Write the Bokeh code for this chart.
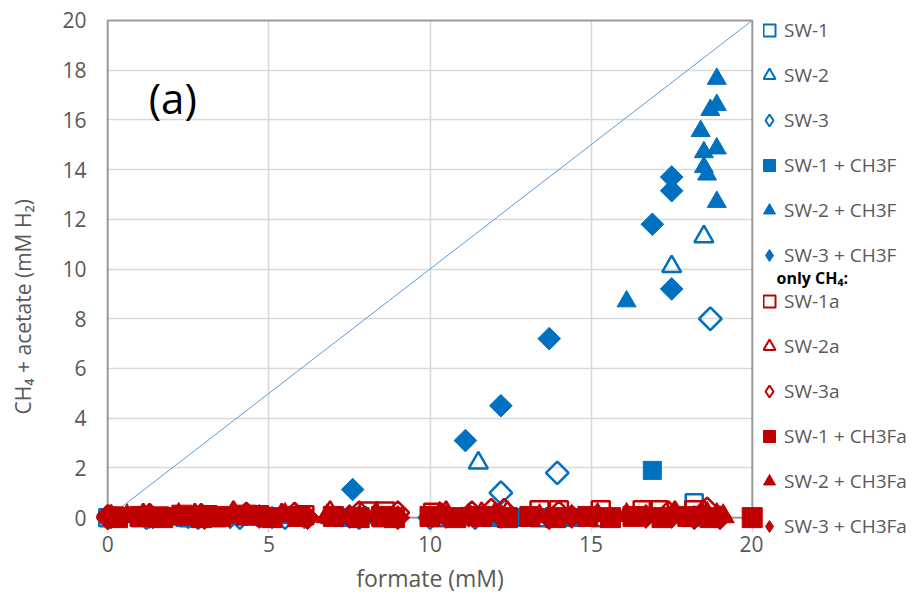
import math
from bokeh.plotting import figure
from bokeh.layouts import row
from bokeh.models import (Range1d, FixedTicker, BoxAnnotation, Label, Legend,
                          LegendItem, ColumnDataSource)
from bokeh.embed import file_html
from bokeh.resources import INLINE

BLUE = "#0070C0"
RED = "#C00000"
FONT = "Open Sans"
GREY = "#595959"

# ---------------- data ----------------
x_ticks = [0, 5, 10, 15, 20]
y_ticks = [0, 2, 4, 6, 8, 10, 12, 14, 16, 18, 20]

diag_x = [0, 20]
diag_y = [0, 20]

# total CH4 + acetate (blue series)
sw1_x = [0.0, 1.0, 2.5, 3.4, 5.0, 8.5, 10.3, 13.4, 15.3, 18.2]
sw1_y = [0, 0, 0, 0, 0, 0, 0, 0, 0, 0.6]

sw2_x = [0.1, 1.0, 2.9, 3.9, 5.4, 6.9, 8.0, 10.4, 11.5, 17.5, 18.5]
sw2_y = [0, 0, 0, 0, 0, 0, 0, 0, 2.2, 10.1, 11.3]

sw3_x = [0.0, 1.2, 2.8, 4.1, 5.5, 7.8, 10.0, 11.4, 12.2, 13.95, 18.7]
sw3_y = [0, 0, 0, 0, 0, 0, 0, 0, 1.0, 1.8, 8.0]

sw1f_x = [0.2, 1.4, 2.4, 3.3, 4.9, 7.3, 8.8, 11.9, 12.75, 14.5, 16.9, 18.1]
sw1f_y = [0, 0, 0, 0, 0, 0, 0, 0, 0, 0, 1.9, 0]

sw2f_x = [0.2, 1.8, 3.0, 4.2, 5.8, 7.5, 8.9, 11.0, 13.0, 16.1, 18.9, 18.6, 18.5,
          18.5, 18.9, 18.4, 18.7, 18.9, 18.9]
sw2f_y = [0, 0, 0, 0, 0, 0, 0, 0, 0, 8.7, 12.7, 13.8, 14.1,
          14.7, 14.85, 15.55, 16.4, 16.6, 17.65]

sw3f_x = [0.1, 1.4, 2.5, 3.8, 5.1, 6.1, 7.6, 11.1, 12.2, 13.7, 17.5, 16.9, 17.5, 17.5]
sw3f_y = [0, 0, 0, 0, 0, 0, 1.13, 3.1, 4.5, 7.2, 9.2, 11.8, 13.15, 13.7]

# only CH4 (red series)
sw1a_x = [0.2, 1.6, 3.1, 4.7, 6.1, 8.1, 8.6, 10.1, 13.4, 14.0, 15.3, 16.6, 17.1, 18.2]
sw1a_y = [0.05, 0.05, 0.1, 0.1, 0.1, 0.25, 0.25, 0.2, 0.3, 0.3, 0.3, 0.3, 0.3, 0.3]

sw2a_x = [0.1, 1.1, 2.7, 3.9, 5.4, 6.9, 10.5, 11.6, 12.4, 17.6, 18.5]
sw2a_y = [0.05, 0.1, 0.1, 0.2, 0.1, 0.2, 0.2, 0.15, 0.2, 0.2, 0.25]

sw3a_x = [0.0, 1.3, 2.9, 4.3, 5.8, 7.8, 9.0, 11.3, 11.9, 12.3, 14.0, 17.4, 18.6]
sw3a_y = [0.05, 0.1, 0.1, 0.15, 0.15, 0.2, 0.2, 0.2, 0.3, 0.3, 0.2, 0.2, 0.35]

sw1fa_x = [0.3, 1.0, 1.7, 2.3, 2.9, 3.5, 4.3, 5.1, 5.9, 7.0, 7.8, 8.5, 8.9, 10.0,
           10.8, 11.6, 12.4, 13.1, 13.9, 14.9, 15.6, 16.3, 17.2, 18.0, 18.7, 20.0]
sw1fa_y = [0, 0.05, 0, 0.1, 0, 0.05, 0.1, 0, 0.05, 0.05, 0, 0.05, 0, 0.05,
           0, 0.05, 0, 0.05, 0, 0.05, 0, 0.05, 0, 0.05, 0, 0]

sw2fa_x = [0.6, 2.2, 3.9, 5.5, 6.8, 8.3, 10.3, 12.0, 13.4, 15.2, 16.1, 17.6, 18.4,
           18.6, 18.9, 19.1]
sw2fa_y = [0.05, 0.1, 0.05, 0.1, 0.05, 0.1, 0.15, 0.1, 0.05, 0.1, 0.1, 0.1, 0.1,
           0.15, 0.1, 0.05]

sw3fa_x = [0.0, 1.3, 3.0, 4.7, 6.2, 7.5, 9.0, 10.5, 11.2, 12.2, 13.7, 14.4, 16.7,
           17.5, 18.2, 19.0]
sw3fa_y = [0, 0.05, 0, 0.05, 0, 0.05, 0, 0.05, 0.1, 0.05, 0, 0.05, 0.05,
           0.05, 0, 0]

names_total = ["SW-1", "SW-2", "SW-3", "SW-1 + CH3F", "SW-2 + CH3F", "SW-3 + CH3F"]
names_ch4 = ["SW-1a", "SW-2a", "SW-3a", "SW-1 + CH3Fa", "SW-2 + CH3Fa", "SW-3 + CH3Fa"]

y_title = "CH\u2084 + acetate (mM H\u2082)"
x_title = "formate (mM)"

# ---------------- main figure ----------------
p = figure(width=763, height=603, output_backend="svg", toolbar_location=None,
           title=None,
           x_range=Range1d(-0.35, 20.35), y_range=Range1d(-1.0, 20.6),
           min_border_left=96, min_border_right=0, min_border_top=5,
           min_border_bottom=61)
p.outline_line_color = None
p.background_fill_color = "white"
p.border_fill_color = "white"

for ax, ticks in ((p.xaxis[0], x_ticks), (p.yaxis[0], y_ticks)):
    ax.ticker = FixedTicker(ticks=ticks)
    ax.axis_line_color = None
    ax.major_tick_line_color = None
    ax.minor_tick_line_color = None
    ax.major_tick_out = 0
    ax.major_tick_in = 0
    ax.major_label_text_font = FONT
    ax.major_label_text_font_size = "21px"
    ax.major_label_text_color = GREY
    ax.axis_label_text_font = FONT
    ax.axis_label_text_color = GREY
    ax.axis_label_text_font_style = "normal"

p.xaxis[0].axis_label = x_title
p.xaxis[0].axis_label_text_font_size = "23px"
p.xaxis[0].major_label_standoff = -7
p.xaxis[0].axis_label_standoff = 7
# trailing no-break spaces move the visible title lower along the axis,
# as in the reference (where it sits below the axis centre)
p.yaxis[0].axis_label = y_title + "\u00a0" * 12
p.yaxis[0].axis_label_text_font_size = "21px"
p.yaxis[0].major_label_standoff = 10
p.yaxis[0].axis_label_standoff = 22

for g in (p.xgrid[0], p.ygrid[0]):
    g.grid_line_color = "#d9d9d9"
    g.grid_line_width = 1.6
if "cross_bounds" in p.ygrid[0].properties():
    p.ygrid[0].cross_bounds = (0, 20)
    p.xgrid[0].cross_bounds = (-0.6, 20)

frame_box = BoxAnnotation(left=0, right=20, bottom=0, top=20, fill_color=None,
                          fill_alpha=0, line_color="black", line_width=2,
                          level="underlay")
p.add_layout(frame_box)

p.line(diag_x, diag_y, line_color="#5B9BD5", line_width=1)

D = math.pi / 4
# marker styles: (marker, filled, size, angle)
styles = [("square", False, 17, 0.0), ("triangle", False, 19, 0.0),
          ("square", False, 16, D), ("square", True, 18, 0.0),
          ("triangle", True, 19, 0.0), ("square", True, 16, D)]
red_styles = [("square", False, 18, 0.0), ("triangle", False, 20, 0.0),
              ("square", False, 16, D), ("square", True, 20, 0.0),
              ("triangle", True, 22, 0.0), ("square", True, 17, D)]
# legend swatches (the legend ignores marker rotation, so use a diamond marker)
legend_styles = [("square", False, 12, 0.0), ("triangle", False, 12, 0.0),
                 ("diamond", False, 12, 0.0), ("square", True, 12, 0.0),
                 ("triangle", True, 12, 0.0), ("diamond", True, 12, 0.0)]


def sc(fig, src, style, color, lw=2.5):
    marker, filled, sz, angle = style
    return fig.scatter("x", "y", source=src, marker=marker, size=sz, angle=angle,
                       line_color=color,
                       fill_color=color if filled else None,
                       line_width=1 if filled else lw)


blue_data = [(sw1_x, sw1_y), (sw2_x, sw2_y), (sw3_x, sw3_y),
             (sw1f_x, sw1f_y), (sw2f_x, sw2f_y), (sw3f_x, sw3f_y)]
red_data = [(sw1a_x, sw1a_y), (sw2a_x, sw2a_y), (sw3a_x, sw3a_y),
            (sw1fa_x, sw1fa_y), (sw2fa_x, sw2fa_y), (sw3fa_x, sw3fa_y)]

blue_src = [ColumnDataSource(dict(x=x, y=y)) for x, y in blue_data]
red_src = [ColumnDataSource(dict(x=x, y=y)) for x, y in red_data]

for s, st in zip(blue_src, styles):
    sc(p, s, st, BLUE)
for s, st in zip(red_src, red_styles):
    sc(p, s, st, RED)

p.add_layout(Label(x=1.27, y=16.9, text="(a)", text_font=FONT, text_font_size="42px",
                   text_color="black", text_baseline="middle", text_align="left"))

# ---------------- legend panel (coordinates = canvas pixels) ----------------
lp = figure(width=159, height=603, output_backend="svg", toolbar_location=None,
            title=None, x_range=Range1d(763, 922), y_range=Range1d(542, 5),
            x_axis_location=None, y_axis_location=None,
            min_border_left=0, min_border_right=0, min_border_top=5,
            min_border_bottom=61)
lp.outline_line_color = None
lp.grid.visible = False
lp.background_fill_color = "white"
lp.border_fill_color = "white"


def make_legend(names, sources, color, loc):
    items = []
    for n, s, st in zip(names, sources, legend_styles):
        # same data as the main plot; it falls outside this panel's ranges,
        # so only the legend swatch is visible here
        r = sc(lp, s, st, color, lw=2)
        items.append(LegendItem(label=n, renderers=[r]))
    leg = Legend(items=items, location=loc, orientation="vertical", padding=0,
                 margin=0, spacing=15, glyph_width=30, glyph_height=30,
                 label_height=30, label_standoff=0, border_line_color=None,
                 background_fill_alpha=0, label_text_font=FONT,
                 label_text_font_size="19px", label_text_color=GREY)
    lp.add_layout(leg)


make_legend(names_total, blue_src, BLUE, (-9, 272))
make_legend(names_ch4, red_src, RED, (-9, 1))

lp.add_layout(Label(x=776, y=277, text="only CH\u2084:", text_font=FONT,
                    text_font_size="16px", text_font_style="bold", text_color="black",
                    text_baseline="middle", text_align="left"))

layout = row(p, lp, spacing=0)
open("out.html", "w").write(file_html(layout, INLINE))
